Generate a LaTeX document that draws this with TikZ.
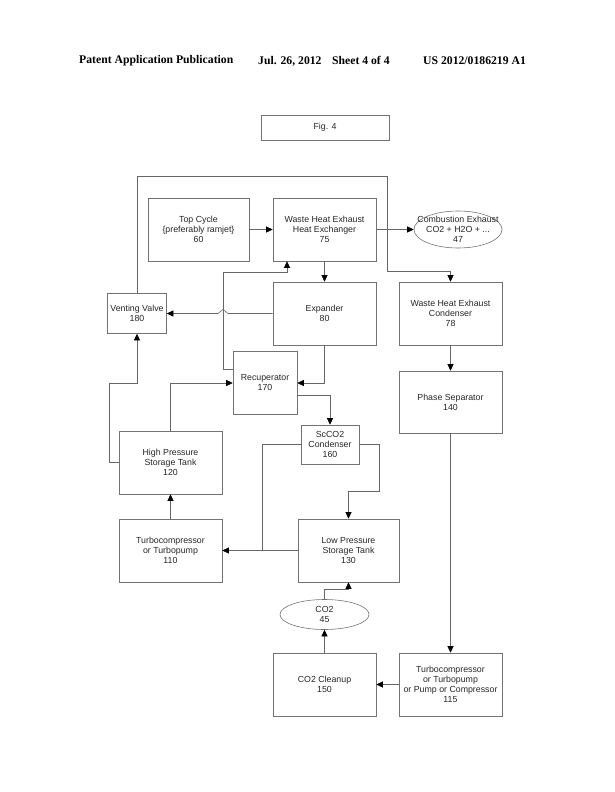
\documentclass[tikz,border=0pt]{standalone}
\usepackage{fontspec}
\setmainfont{Liberation Serif}
\setsansfont{Liberation Sans}
\usetikzlibrary{arrows.meta,shapes.geometric}

\tikzset{
  blk/.style 2 args={minimum width=#1pt,minimum height=#2pt},
  lbl/.style={font=\sffamily\fontsize{8.8}{10}\selectfont,text=black!85,align=center}
}

\begin{document}
\begin{tikzpicture}[x=1pt,y=-1pt]
\useasboundingbox (0,0) rectangle (614,792);

% header line
\begin{scope}[every node/.style={anchor=west,inner sep=0,font=\bfseries\fontsize{11.7}{12}\selectfont}]
    \node (pub) at (79,61) {Patent Application Publication};
    \node (date) at (258,61) {Jul. 26, 2012\hspace{0.9em}Sheet 4 of 4};
    \node (num) at (423,61) {US 2012/0186219 A1};
\end{scope}

% blocks
\begin{scope}[every node/.style={draw=black!55,line width=0.6pt,inner sep=0,lbl}]
    \node[blk={128}{25}] (fig) at (325,127.5) {Fig. 4};
    \node[blk={101}{63}] (top) at (198.5,229.5) {Top Cycle\\\{preferably ramjet\}\\60};
    \node[blk={103}{63}] (hx) at (324.5,229.5) {Waste Heat Exhaust\\Heat Exchanger\\75};
    \node[ellipse,blk={88}{37}] (exh) at (458,229.5) {};
    \node[blk={59}{40}] (vv) at (137,313.5) {Venting Valve\\180};
    \node[blk={103}{63}] (exp) at (324.5,313.5) {Expander\\80};
    \node[blk={103}{63}] (cond) at (450.5,313.5) {Waste Heat Exhaust\\Condenser\\78};
    \node[blk={64}{63}] (rec) at (265,382.5) {Recuperator\\170};
    \node[blk={103}{62}] (phase) at (450.5,402) {Phase Separator\\140};
    \node[blk={103}{63}] (hpt) at (170.5,462.5) {High Pressure\\Storage Tank\\120};
    \node[blk={58}{39}] (sc) at (330,444.5) {ScCO2\\Condenser\\160};
    \node[blk={103}{63}] (tc) at (170.5,550.5) {Turbocompressor\\or Turbopump\\110};
    \node[blk={101}{63}] (lpt) at (348.5,550.5) {Low Pressure\\Storage Tank\\130};
    \node[ellipse,blk={89}{30}] (co2) at (324.5,614.5) {CO2\\45};
    \node[blk={103}{63}] (cl) at (324.5,684.5) {CO2 Cleanup\\150};
    \node[blk={103}{63}] (tp) at (450.5,684.5) {Turbocompressor\\or Turbopump\\or Pump or Compressor\\115};
\end{scope}
\node[lbl,inner sep=0] (exhtxt) at (exh) {Combustion Exhaust\\CO2 + H2O + ...\\47};

% flows
\begin{scope}[>={Triangle[length=6.5pt,width=6pt,black]},
              draw=black!60,line width=0.6pt]
    \draw[->] (top) -- (hx);
    \draw[->] (hx) -- (exh);
    \draw[->] (hx) -- (exp);
    \draw[->] (exp.west) -- (228,313.5) -- (223,309.5) -- (218,313.5) -- (vv.east);
    \draw[->] (rec.west |- 0,369) -- (223,369) |- (287,272) -- (287,0 |- hx.south);
    \draw[->] (exp.south) |- (rec.east |- 0,383);
    \draw[->] (rec.east |- 0,395) -| (sc.north);
    \draw[->] (hpt.north) |- (rec.west |- 0,383);
    \draw[->] (hpt.west) -- (109,462.5) |- (137,383) -- (vv.south);
    \draw[->] (vv.north) |- (387,176) |- (450.5,271) -- (cond.north);
    \draw[->] (cond) -- (phase);
    \draw[->] (phase) -- (tp);
    \draw[->] (tc) -- (hpt);
    \draw[->] (lpt) -- (tc);
    \draw (sc.west) -| (262,550.5);
    \draw[->] (sc.east) -- (379,444.5) |- (348.5,491) -- (lpt.north);
    \draw[->] (co2.north) |- (348.5,589) -- (lpt.south);
    \draw[->] (cl) -- (co2);
    \draw[->] (tp) -- (cl);
\end{scope}
\end{tikzpicture}
\end{document}
